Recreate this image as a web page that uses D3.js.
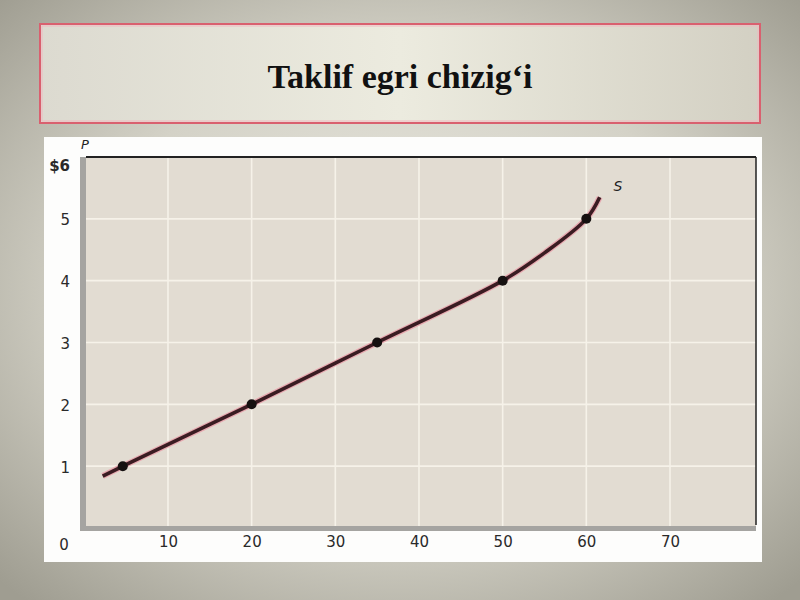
<!DOCTYPE html>
<html><head><meta charset="utf-8">
<script src="https://cdn.jsdelivr.net/npm/d3@7"></script>
<style>html,body{margin:0;padding:0;background:#bdbbb0;}svg{display:block;}</style>
</head><body>
<script>
// ---- data ----
const title = "Taklif egri chizig‘i";
const yTicks = [1, 2, 3, 4, 5, 6];
const yTickLabels = ["1", "2", "3", "4", "5", "$6"];
const xTicks = [10, 20, 30, 40, 50, 60, 70];
const xTickLabels = ["10", "20", "30", "40", "50", "60", "70"];
// marked points on the supply curve (quantity, price)
const pointQ = [4.6, 20, 35, 50, 60];
const pointP = [1, 2, 3, 4, 5];
// supply curve path
const curveQ = [2.2, 4.6, 20, 35, 50, 55, 60, 61.6];
const curveP = [0.84, 1, 2, 3, 4, 4.45, 5, 5.35];
const curveLabel = "S";
const axisLabelY = "P";

const W = 800, H = 600;
const svg = d3.select("body").append("svg").attr("width", W).attr("height", H);
const defs = svg.append("defs");
const bg = defs.append("radialGradient").attr("id", "bg").attr("cx", "50%").attr("cy", "48%").attr("r", "70%");
bg.append("stop").attr("offset", "0%").attr("stop-color", "#ecebe3");
bg.append("stop").attr("offset", "55%").attr("stop-color", "#d4d2c7");
bg.append("stop").attr("offset", "100%").attr("stop-color", "#9f9d91");
svg.append("rect").attr("width", W).attr("height", H).attr("fill", "url(#bg)");

// title box
const tg = defs.append("linearGradient").attr("id", "tg").attr("x1", "0").attr("x2", "1");
tg.append("stop").attr("offset", "0%").attr("stop-color", "#dcdad0");
tg.append("stop").attr("offset", "50%").attr("stop-color", "#ecebdf");
tg.append("stop").attr("offset", "100%").attr("stop-color", "#d3d0c3");
svg.append("rect").attr("x", 40).attr("y", 24).attr("width", 720).attr("height", 99)
  .attr("fill", "url(#tg)").attr("stroke", "#d9606f").attr("stroke-width", 2);
svg.append("rect").attr("x", 42).attr("y", 26).attr("width", 716).attr("height", 95)
  .attr("fill", "none").attr("stroke", "#f0b8bf").attr("stroke-width", 1);
svg.append("text").attr("x", 400).attr("y", 88).attr("text-anchor", "middle")
  .attr("font-family", "'Liberation Serif','Times New Roman',serif").attr("font-weight", "bold")
  .attr("font-size", 34).attr("fill", "#111").text(title);

// white panel
svg.append("rect").attr("x", 44).attr("y", 137).attr("width", 718).attr("height", 425).attr("fill", "#fdfdfc");

// scales
const x = d3.scaleLinear().domain([0, 70]).range([84.3, 670]);
const y = d3.scaleLinear().domain([0, 6]).range([528, 157]);

const plotL = 86, plotR = 756, plotT = 157, plotB = 526;
// frame shading
svg.append("rect").attr("x", 80).attr("y", plotT).attr("width", plotR - 80).attr("height", 531 - plotT).attr("fill", "#a5a4a1");
svg.append("rect").attr("x", plotL).attr("y", plotT).attr("width", plotR - plotL).attr("height", plotB - plotT).attr("fill", "#e2dcd2");
// grid
const grid = svg.append("g").attr("stroke", "#f6f2e9").attr("stroke-width", 1.6);
grid.selectAll("line.h").data(yTicks.filter(d => d < 6)).join("line")
  .attr("x1", plotL).attr("x2", plotR).attr("y1", d => y(d)).attr("y2", d => y(d));
grid.selectAll("line.v").data(xTicks).join("line")
  .attr("y1", plotT).attr("y2", plotB).attr("x1", d => x(d)).attr("x2", d => x(d));
// top and right black edges
svg.append("line").attr("x1", plotL).attr("x2", plotR).attr("y1", plotT).attr("y2", plotT).attr("stroke", "#222").attr("stroke-width", 2);
svg.append("line").attr("x1", plotR).attr("x2", plotR).attr("y1", plotT).attr("y2", 525).attr("stroke", "#222").attr("stroke-width", 1.5);

// axes labels via d3 axes
const font = "'DejaVu Sans',Verdana,sans-serif";
const yAxis = svg.append("g").attr("transform", "translate(70,0)")
  .call(d3.axisLeft(y).tickValues(yTicks).tickFormat((d, i) => yTickLabels[i]).tickSize(0).tickPadding(0));
yAxis.select(".domain").remove();
yAxis.selectAll("text").attr("font-family", font).attr("font-size", 15).attr("fill", "#2a2a2a").attr("dy", "0.4em");
yAxis.selectAll("text").filter(d => d === 6).attr("dy", "0.9em").attr("font-weight", "bold").attr("font-size", 15);

const xAxis = svg.append("g").attr("transform", "translate(0,536)")
  .call(d3.axisBottom(x).tickValues(xTicks).tickFormat((d, i) => xTickLabels[i]).tickSize(0).tickPadding(0));
xAxis.select(".domain").remove();
xAxis.selectAll("text").attr("font-family", font).attr("font-size", 15).attr("fill", "#2a2a2a");
svg.append("text").attr("x", 64).attr("y", 550).attr("text-anchor", "middle")
  .attr("font-family", font).attr("font-size", 15).attr("fill", "#2a2a2a").text("0");
svg.append("text").attr("x", 85).attr("y", 149).attr("text-anchor", "middle")
  .attr("font-family", font).attr("font-style", "italic").attr("font-size", 13).attr("fill", "#222").text(axisLabelY);

// curve
const curveData = curveQ.map((q, i) => [q, curveP[i]]);
const line = d3.line().x(d => x(d[0])).y(d => y(d[1])).curve(d3.curveCatmullRom.alpha(0.5));
svg.append("path").datum(curveData).attr("d", line).attr("fill", "none")
  .attr("stroke", "#e7a9b0").attr("stroke-width", 6).attr("stroke-linecap", "butt");
svg.append("path").datum(curveData).attr("d", line).attr("fill", "none")
  .attr("stroke", "#3a1c22").attr("stroke-width", 3.6).attr("stroke-linecap", "butt");
svg.append("g").selectAll("circle").data(pointQ.map((q, i) => [q, pointP[i]])).join("circle")
  .attr("cx", d => x(d[0])).attr("cy", d => y(d[1])).attr("r", 5).attr("fill", "#151010");
svg.append("text").attr("x", 618).attr("y", 191).attr("text-anchor", "middle")
  .attr("font-family", font).attr("font-style", "italic").attr("font-size", 14).attr("fill", "#222").text(curveLabel);
</script>
</body></html>
